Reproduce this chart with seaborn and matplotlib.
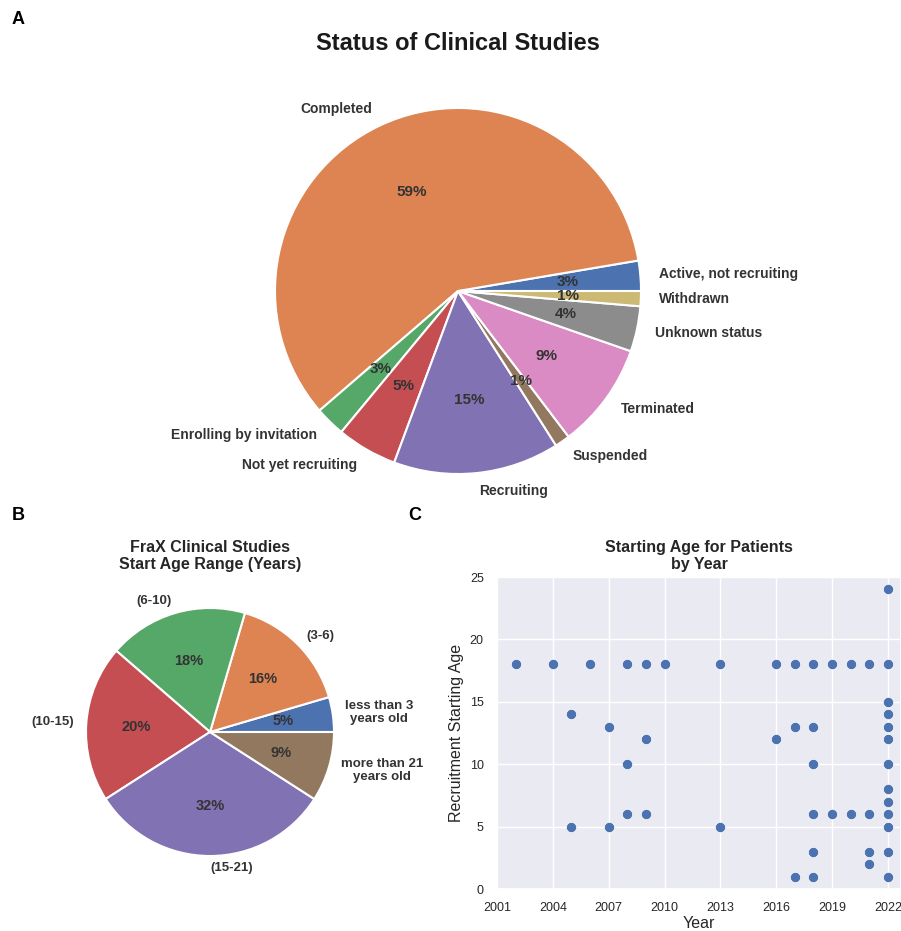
import matplotlib
matplotlib.use('Agg')
import matplotlib.pyplot as plt
import seaborn as sns
import pandas as pd

# ---- data ----
status_labels = ['Active, not recruiting', 'Completed', 'Enrolling by invitation',
                 'Not yet recruiting', 'Recruiting', 'Suspended', 'Terminated',
                 'Unknown status', 'Withdrawn']
status_counts = [2, 44, 2, 4, 11, 1, 7, 3, 1]

age_labels = ['less than 3\nyears old', '(3-6)', '(6-10)', '(10-15)', '(15-21)',
              'more than 21\nyears old']
age_counts = [2, 7, 8, 9, 14, 4]

years = [2002, 2004, 2005, 2005, 2006, 2007, 2007, 2008, 2008, 2008,
         2009, 2009, 2009, 2010, 2013, 2013, 2016, 2016, 2017, 2017, 2017,
         2018, 2018, 2018, 2018, 2018, 2018, 2019, 2019, 2020, 2020,
         2021, 2021, 2021, 2021,
         2022, 2022, 2022, 2022, 2022, 2022, 2022, 2022, 2022, 2022, 2022, 2022, 2022]
start_ages = [18, 18, 14, 5, 18, 13, 5, 18, 10, 6,
              18, 12, 6, 18, 18, 5, 18, 12, 18, 13, 1,
              18, 13, 10, 6, 3, 1, 18, 6, 18, 6,
              18, 6, 3, 2,
              24, 18, 15, 14, 13, 12, 10, 8, 7, 6, 5, 3, 1]
year_ticks = [2001, 2004, 2007, 2010, 2013, 2016, 2019, 2022]

###############################################################
sns.set_theme(style='darkgrid')
plt.rcParams['font.family'] = ['Liberation Sans', 'DejaVu Sans']

W, H = 901, 931
fig = plt.figure(figsize=(W / 100, H / 100), dpi=100)


def pixAxes(x0, y0, w, h):
    return fig.add_axes([x0 / W, 1 - (y0 + h) / H, w / W, h / H])


def drawPie(ax, counts, labels, r_px, half_px, fs, pct_fs):
    colors = sns.color_palette('deep', len(counts))
    wedges, texts, autotexts = ax.pie(
        counts, labels=labels, colors=colors, autopct='%.0f%%',
        startangle=0, counterclock=True,
        wedgeprops={'edgecolor': 'white', 'linewidth': 1.5},
        textprops={'fontsize': fs, 'fontweight': 'bold', 'color': '#333333'})
    for t in texts:
        t.set_multialignment('center')
    for t in autotexts:
        t.set_fontsize(pct_fs)
    lim = half_px / r_px
    ax.set_xlim(-lim, lim)
    ax.set_ylim(-lim, lim)
    ax.set_aspect('equal')
    return wedges


# ---- A ----
axA = pixAxes(258, 91, 400, 400)
drawPie(axA, status_counts, status_labels, 183, 200, 10, 11)
fig.text(458 / W, 1 - 44 / H, 'Status of Clinical Studies', ha='center', va='center',
         fontsize=17, fontweight='bold', color='#1a1a1a')

# ---- B ----
axB = pixAxes(210 - 140, 732 - 140, 280, 280)
drawPie(axB, age_counts, age_labels, 124, 140, 9.5, 10.5)
fig.text(210 / W, 1 - 556 / H, 'FraX Clinical Studies\nStart Age Range (Years)',
         ha='center', va='center', fontsize=11.5, fontweight='bold', color='#262626',
         linespacing=1.1)

# ---- C ----
df = pd.DataFrame({'Year': years, 'Age': start_ages})
axC = pixAxes(497, 577, 404, 312)
sns.scatterplot(data=df, x='Year', y='Age', ax=axC, s=55, color='#4c72b0',
                edgecolor='white', linewidth=0.5)
axC.set_xlim(2001, 2022.7)
axC.set_ylim(0, 25)
axC.set_xticks(year_ticks)
axC.set_yticks([0, 5, 10, 15, 20, 25])
axC.tick_params(labelsize=9)
axC.set_xlabel('Year', fontsize=11.5, labelpad=1)
axC.set_ylabel('Recruitment Starting Age', fontsize=11.5)
axC.set_title('Starting Age for Patients\nby Year', fontsize=11.5, fontweight='bold',
              linespacing=1.1, pad=6)

# panel letters
for letter, px, py in [('A', 18, 20), ('B', 18, 515), ('C', 415, 515)]:
    fig.text(px / W, 1 - py / H, letter, ha='center', va='center', fontsize=13,
             fontweight='bold', color='black')

plt.savefig('out.png', dpi=100)
